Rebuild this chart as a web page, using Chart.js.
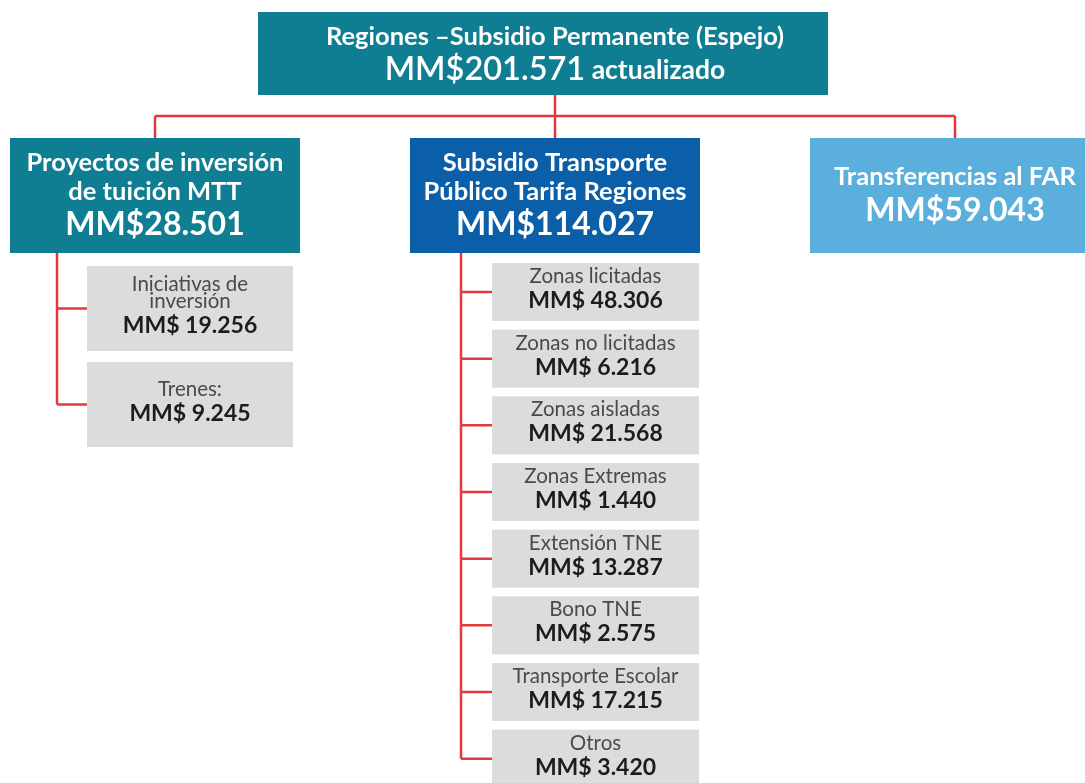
<!DOCTYPE html>
<html>
<head>
<meta charset="utf-8">
<script src="https://cdn.jsdelivr.net/npm/chart.js@4.4.1/dist/chart.umd.min.js"></script>
<style>
  body { margin: 0; background: #fff; }
  #wrap { width: 1085px; height: 783px; }
</style>
</head>
<body>
<div id="wrap"><canvas id="org"></canvas></div>
<script>
const rootTitle = 'Regiones –Subsidio Permanente (Espejo)';
const rootTotal = 201571;
const rootNote = 'actualizado';

const groupLabels = [
    ['Proyectos de inversión', 'de tuición MTT'],
    ['Subsidio Transporte', 'Público Tarifa Regiones'],
    ['Transferencias al FAR'],
];
const groupValues = [28501, 114027, 59043];

const mttLabels = [['Iniciativas de', 'inversión'], ['Trenes:']];
const mttValues = [19256, 9245];

const transporteLabels = [
    ['Zonas licitadas'], ['Zonas no licitadas'], ['Zonas aisladas'], ['Zonas Extremas'],
    ['Extensión TNE'], ['Bono TNE'], ['Transporte Escolar'], ['Otros'],
];
const transporteValues = [48306, 6216, 21568, 1440, 13287, 2575, 17215, 3420];

const groupChildren = [
    { labels: mttLabels, values: mttValues },
    { labels: transporteLabels, values: transporteValues },
    { labels: [], values: [] },
];

// x: one unit per column of the tree, y: one unit per row of the transport list
const layout = {
    root: { x: 0.97, w: 1.425, top: -3.765, bottom: -2.52, textX: 1 },
    bus: -2.205,
    group: { w: 0.725, top: -1.875, bottom: -0.15 },
    child: [
        { dx: -0.17, w: 0.515, spine: -0.245, top: 0.045, h: 1.275, step: 1.44 },
        { dx: -0.1575, w: 0.5175, spine: -0.235, top: 0, h: 0.87, step: 1 },
        null,
    ],
};

const colors = {
    root: '#107e92',
    group: ['#107e92', '#0b5ea8', '#5bafdd'],
    child: '#dcdcdc',
    line: '#e2393f',
    childLabel: '#4a4a4a',
    childValue: '#1c1c1c',
};

const FONT = 'Lato, "Noto Sans", sans-serif';

function fmt(v) {
    return String(v).replace(/\B(?=(\d{3})+(?!\d))/g, '.');
}

// one point per box, the box sits around it
const nodes = [];
nodes.push({
    x: layout.root.x, y: (layout.root.top + layout.root.bottom) / 2,
    w: layout.root.w, h: layout.root.bottom - layout.root.top, kind: 'root',
});
groupLabels.forEach((lab, c) => {
    nodes.push({
        x: c, y: (layout.group.top + layout.group.bottom) / 2,
        w: layout.group.w, h: layout.group.bottom - layout.group.top,
        kind: 'group', col: c, labels: lab, value: 'MM$' + fmt(groupValues[c]),
    });
    const ch = layout.child[c];
    groupChildren[c].labels.forEach((cl, i) => {
        nodes.push({
            x: c + ch.dx + ch.w / 2, y: ch.top + i * ch.step + ch.h / 2,
            w: ch.w, h: ch.h, kind: 'child', col: c,
            labels: cl, value: 'MM$ ' + fmt(groupChildren[c].values[i]),
        });
    });
});

// cy is the middle of the capitals
function drawText(ctx, str, x, cy, size, weight, color, align) {
    ctx.font = weight + ' ' + size + 'px ' + FONT;
    ctx.fillStyle = color;
    ctx.textAlign = align || 'center';
    ctx.textBaseline = 'alphabetic';
    ctx.fillText(str, x, cy + size * 0.36);
}

const orgPlugin = {
    id: 'org',
    beforeDatasetsDraw(chart) {
        const ctx = chart.ctx;
        const xs = chart.scales.x, ys = chart.scales.y;
        const px = v => xs.getPixelForValue(v), py = v => ys.getPixelForValue(v);
        ctx.save();
        ctx.strokeStyle = colors.line;
        ctx.lineWidth = 2.5;
        ctx.beginPath();
        ctx.moveTo(px(1), py(layout.root.bottom));
        ctx.lineTo(px(1), py(layout.bus));
        ctx.moveTo(px(0), py(layout.bus));
        ctx.lineTo(px(groupLabels.length - 1), py(layout.bus));
        groupLabels.forEach((_, c) => {
            ctx.moveTo(px(c), py(layout.bus));
            ctx.lineTo(px(c), py(layout.group.top));
            const ch = layout.child[c];
            const n = groupChildren[c].labels.length;
            if (!ch || !n) return;
            const sx = px(c + ch.spine);
            const lastY = ch.top + (n - 1) * ch.step + ch.h / 2;
            ctx.moveTo(sx, py(layout.group.bottom));
            ctx.lineTo(sx, py(lastY));
            for (let i = 0; i < n; i++) {
                const yy = py(ch.top + i * ch.step + ch.h / 2);
                ctx.moveTo(sx, yy);
                ctx.lineTo(px(c + ch.dx), yy);
            }
        });
        ctx.stroke();
        ctx.restore();
    },
    afterDatasetsDraw(chart) {
        const ctx = chart.ctx;
        const xs = chart.scales.x, ys = chart.scales.y;
        const px = v => xs.getPixelForValue(v), py = v => ys.getPixelForValue(v);
        ctx.save();
        chart.data.datasets[0].data.forEach(n => {
            const x0 = px(n.x - n.w / 2), x1 = px(n.x + n.w / 2);
            const y0 = py(n.y - n.h / 2), y1 = py(n.y + n.h / 2);
            const cx = (x0 + x1) / 2, cy = (y0 + y1) / 2;
            if (n.kind === 'root') {
                ctx.fillStyle = colors.root;
                ctx.fillRect(x0, y0, x1 - x0, y1 - y0);
                const tx = px(layout.root.textX);
                drawText(ctx, rootTitle, tx, cy - 17.5, 25.5, 'bold', '#fff');
                // value + note on one line
                const big = 'MM$' + fmt(rootTotal), small = ' ' + rootNote;
                ctx.font = '600 32.5px ' + FONT;
                const wb = ctx.measureText(big).width;
                ctx.font = 'bold 26.5px ' + FONT;
                const ws = ctx.measureText(small).width;
                const left = tx - (wb + ws) / 2;
                drawText(ctx, big, left, cy + 14.5, 32.5, '600', '#fff', 'left');
                drawText(ctx, small, left + wb, cy + 16, 26.5, 'bold', '#fff', 'left');
            } else if (n.kind === 'group') {
                ctx.fillStyle = colors.group[n.col];
                ctx.fillRect(x0, y0, x1 - x0, Math.max(0, y1 - y0));
                const span = 29 * (n.labels.length - 1) + 33;
                let ty = cy - 3 - span / 2;
                n.labels.forEach(l => { drawText(ctx, l, cx, ty, 25.5, 'bold', '#fff'); ty += 29; });
                drawText(ctx, n.value, cx, ty + 4, 32, 'bold', '#fff');
            } else {
                ctx.fillStyle = colors.child;
                ctx.fillRect(x0, y0, x1 - x0, y1 - y0);
                const span = 17 * (n.labels.length - 1) + 23.5;
                let ty = cy - 4.5 - span / 2;
                n.labels.forEach(l => { drawText(ctx, l, cx, ty, 20.5, 'normal', colors.childLabel); ty += 17; });
                drawText(ctx, n.value, cx, ty + 7, 23, 'bold', colors.childValue);
            }
        });
        ctx.restore();
    },
};

new Chart(document.getElementById('org'), {
    type: 'scatter',
    data: {
        datasets: [{ data: nodes, pointRadius: 0, pointHoverRadius: 0 }],
    },
    options: {
        responsive: true,
        maintainAspectRatio: false,
        animation: false,
        layout: { padding: 0 },
        scales: {
            x: { type: 'linear', min: -0.3875, max: 2.325, display: false },
            y: { type: 'linear', min: -3.945, max: 7.8, reverse: true, display: false },
        },
        plugins: { legend: { display: false }, tooltip: { enabled: false } },
        events: [],
    },
    plugins: [orgPlugin],
});
</script>
</body>
</html>
